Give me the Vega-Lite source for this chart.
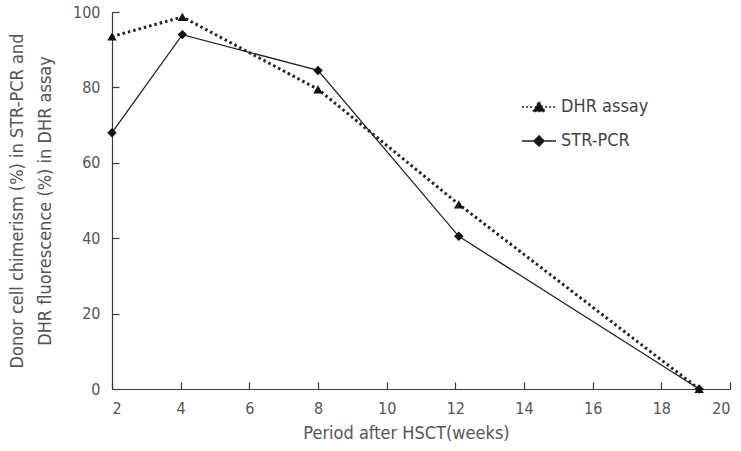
{
  "$schema": "https://vega.github.io/schema/vega-lite/v6.json",
  "width": 618,
  "height": 377,
  "autosize": "none",
  "padding": {"left": 112, "top": 12, "right": 11, "bottom": 62},
  "background": "white",
  "config": {
    "view": {"stroke": null},
    "font": "DejaVu Sans Condensed, Roboto, sans-serif",
    "axis": {"grid": false, "ticks": true, "tickSize": -7, "domainColor": "#3a3a3a", "domainWidth": 1.2, "tickColor": "#3a3a3a", "tickWidth": 1.2, "labelColor": "#555", "titleColor": "#555", "labelFontSize": 16, "titleFontSize": 18, "titleFontWeight": "normal", "labelFont": "DejaVu Sans Condensed, Roboto, sans-serif", "titleFont": "DejaVu Sans Condensed, Roboto, sans-serif"},
    "legend": {"labelFont": "DejaVu Sans Condensed, Roboto, sans-serif", "labelFontSize": 18, "labelColor": "#444", "padding": 0}
  },
  "data": {"values": [
    {"week": 2, "value": 93.5, "series": "DHR assay"},
    {"week": 4.05, "value": 98.7, "series": "DHR assay"},
    {"week": 8, "value": 79.5, "series": "DHR assay"},
    {"week": 12.1, "value": 49, "series": "DHR assay"},
    {"week": 19.1, "value": 0, "series": "DHR assay"},
    {"week": 2, "value": 68, "series": "STR-PCR"},
    {"week": 4.05, "value": 94, "series": "STR-PCR"},
    {"week": 8, "value": 84.5, "series": "STR-PCR"},
    {"week": 12.1, "value": 40.5, "series": "STR-PCR"},
    {"week": 19.1, "value": 0, "series": "STR-PCR"}
  ]},
  "encoding": {
    "x": {"field": "week", "type": "quantitative", "scale": {"domain": [2, 20], "nice": false, "zero": false},
      "axis": {"values": [2,4,6,8,10,12,14,16,18,20], "tickSize": -7, "labelPadding": 18, "title": "Period after HSCT(weeks)", "titlePadding": 8, "titleX": 294}},
    "y": {"field": "value", "type": "quantitative", "scale": {"domain": [0, 100], "nice": false},
      "axis": {"values": [0,20,40,60,80,100], "tickSize": -7, "labelPadding": 19, "title": ["Donor cell chimerism (%) in STR-PCR and", "DHR fluorescence (%) in DHR assay"], "titlePadding": 18, "titleLineHeight": 28}}
  },
  "layer": [
    {
      "transform": [{"filter": "datum.series === 'DHR assay'"}],
      "mark": {"type": "line", "color": "#222", "strokeDash": [2.5, 3], "strokeWidth": 3}
    },
    {
      "transform": [{"filter": "datum.series === 'STR-PCR'"}],
      "mark": {"type": "line", "color": "#222", "strokeWidth": 1.3}
    },
    {
      "transform": [{"filter": "datum.series === 'DHR assay'"}],
      "mark": {"type": "point", "shape": "triangle-up", "filled": true, "color": "#111", "opacity": 1, "size": 90}
    },
    {
      "transform": [{"filter": "datum.series === 'STR-PCR'"}],
      "mark": {"type": "point", "shape": "diamond", "filled": true, "color": "#111", "opacity": 1, "size": 90}
    },
    {
      "mark": {"type": "point", "filled": false, "fill": "#111", "stroke": "#222", "strokeWidth": 1.3, "opacity": 1, "size": 0},
      "encoding": {
        "shape": {"field": "series", "type": "nominal", "scale": {"domain": ["DHR assay", "STR-PCR"], "range": ["M-1,0H-0.36M0.36,0H1M-0.36,0.26L0,-0.32L0.36,0.26Z", "M-1,0H1M0,-0.3L0.3,0L0,0.3L-0.3,0Z"]},
          "legend": {"title": null, "orient": "none", "legendX": 409, "legendY": 78, "rowPadding": 0, "clipHeight": 34, "symbolSize": 1156, "labelOffset": 4}},
        "strokeDash": {"field": "series", "type": "nominal", "scale": {"domain": ["DHR assay", "STR-PCR"], "range": [[2, 2], [1, 0]]}}
      }
    }
  ]
}
